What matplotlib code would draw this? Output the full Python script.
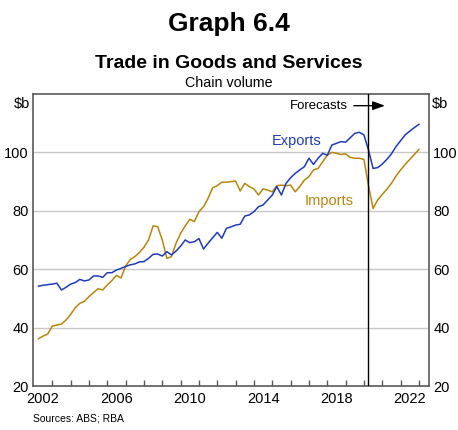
import numpy as np
import pandas as pd
import matplotlib
matplotlib.use("Agg")
import matplotlib.pyplot as plt

plt.rcParams.update({
    "font.family": ["Liberation Sans", "DejaVu Sans"],
    "font.size": 10.5,
})

# quarterly, Mar 2002 to Dec 2022 (forecasts from Jun 2020)
quarters = pd.period_range("2002Q1", "2022Q4", freq="Q")

exports = [
    54.2, 54.5, 54.7, 54.9, 55.2, 52.9, 53.8, 54.9, 55.4, 56.5,
    56.0, 56.3, 57.7, 57.7, 57.2, 58.8, 58.8, 59.7, 60.3, 60.9,
    61.5, 61.8, 62.5, 62.6, 63.7, 65.1, 65.2, 64.5, 66.0, 64.9,
    66.2, 67.9, 70.0, 69.1, 69.4, 70.5, 66.9, 68.9, 70.8, 72.6,
    70.6, 74.0, 74.5, 75.1, 75.4, 78.2, 78.6, 79.7, 81.4, 82.0,
    83.7, 85.4, 88.3, 85.4, 89.4, 91.3, 92.8, 94.0, 95.1, 98.0,
    95.9, 98.0, 99.7, 99.0, 102.5, 103.1, 103.7, 103.5, 105.0, 106.5,
    106.9, 106.0, 100.8, 94.5, 94.8, 96.0, 97.6, 99.5, 102.0, 104.0,
    106.0, 107.3, 108.5, 109.6,
]
imports = [
    36.2, 37.1, 37.8, 40.5, 40.9, 41.2, 42.6, 44.5, 46.8, 48.3,
    49.0, 50.6, 52.0, 53.3, 52.9, 54.6, 56.1, 57.9, 57.0, 61.1,
    63.3, 64.3, 65.7, 67.5, 70.0, 74.8, 74.6, 70.0, 63.7, 64.3,
    68.9, 72.3, 74.8, 77.1, 76.3, 79.7, 81.4, 84.3, 87.9, 88.6,
    89.8, 89.8, 90.0, 90.2, 86.8, 89.4, 88.3, 87.5, 85.4, 87.5,
    87.1, 86.5, 88.6, 88.8, 88.6, 88.8, 86.5, 88.3, 90.5, 91.7,
    94.0, 94.5, 96.8, 99.0, 100.0, 99.7, 99.3, 99.5, 98.3, 98.0,
    98.0, 97.6, 88.5, 80.8, 83.7, 85.6, 87.4, 89.4, 91.9, 94.0,
    95.9, 97.6, 99.3, 101.0,
]

forecast_start = 2020.2
y_ticks = [20, 40, 60, 80, 100]
year_labels = [2002, 2006, 2010, 2014, 2018, 2022]

# decimal year at quarter end
x = np.array([q.year + q.quarter / 4 for q in quarters])

EXP_COL = "#1f3bbd"
IMP_COL = "#b8860b"
SPINE = "#5a5a5a"

fig = plt.figure(figsize=(4.58, 4.30), dpi=100)
ax = fig.add_axes([0.0721, 0.1023, 0.8646, 0.6791])

ax.set_xlim(2001.95, 2023.55)
ax.set_ylim(20, 120)

for v in y_ticks[1:]:
    ax.axhline(v, color="#c8c8c8", lw=1.0, zorder=1)

ax.plot(x, imports, color=IMP_COL, lw=1.1, zorder=3)
ax.plot(x, exports, color=EXP_COL, lw=1.1, zorder=4)
ax.axvline(forecast_start, color="black", lw=1.0, zorder=5)

for s in ax.spines.values():
    s.set_color(SPINE)
    s.set_linewidth(1.2)

# year ticks at year starts, labels centred in the year
ax.set_xticks(np.arange(2003, 2024))
ax.set_xticklabels([])
ax.set_xticks([y + 0.5 for y in year_labels], minor=True)
ax.set_xticklabels([str(y) for y in year_labels], minor=True, fontsize=10.5)
ax.tick_params(axis="x", which="major", direction="in", length=4, width=1, color=SPINE)
ax.tick_params(axis="x", which="minor", length=0, pad=4)

ax.set_yticks(y_ticks)
ax.set_yticklabels([str(v) for v in y_ticks], fontsize=10.5)
ax.tick_params(axis="y", which="both", length=0, pad=3,
               left=True, right=True, labelleft=True, labelright=True)

ax.text(-0.008, 0.99, "$b", transform=ax.transAxes, ha="right", va="top", fontsize=10.5)
ax.text(1.008, 0.99, "$b", transform=ax.transAxes, ha="left", va="top", fontsize=10.5)

ax.text(2016.35, 104.0, "Exports", color=EXP_COL, fontsize=10.5, ha="center", va="center")
ax.text(2018.1, 83.4, "Imports", color=IMP_COL, fontsize=10.5, ha="center", va="center")

ax.text(2019.1, 116.0, "Forecasts", fontsize=9.5, ha="right", va="center")
ax.annotate("", xy=(2021.3, 116.0), xytext=(2019.3, 116.0),
            arrowprops=dict(arrowstyle="-|>,head_length=0.7,head_width=0.25",
                            color="black", lw=1.0))

fig.text(0.5, 0.945, "Graph 6.4", ha="center", va="center", fontsize=19, fontweight="bold")
fig.text(0.5, 0.853, "Trade in Goods and Services", ha="center", va="center",
         fontsize=14, fontweight="bold")
fig.text(0.5, 0.808, "Chain volume", ha="center", va="center", fontsize=10.3)
fig.text(0.072, 0.014, "Sources: ABS; RBA", ha="left", va="bottom", fontsize=7.5)

fig.savefig("out.png", dpi=100)
